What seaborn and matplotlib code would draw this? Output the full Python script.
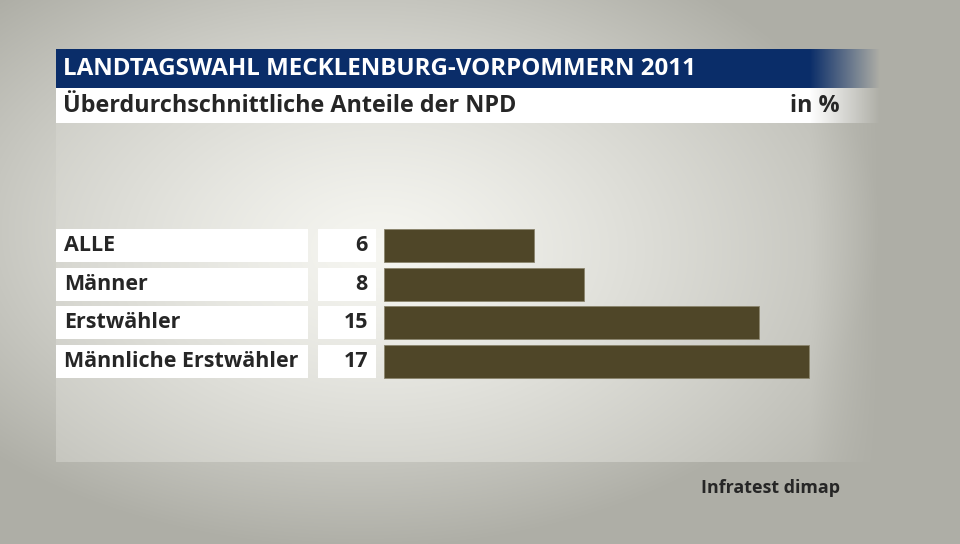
import numpy as np
import pandas as pd
import matplotlib
matplotlib.use("Agg")
import matplotlib.pyplot as plt
import matplotlib.transforms as mtransforms
from matplotlib.patches import Rectangle
import seaborn as sns

# data
categories = ["ALLE", "Männer", "Erstwähler", "Männliche Erstwähler"]
values = [6, 8, 15, 17]
value_labels = ["6", "8", "15", "17"]

title = "LANDTAGSWAHL MECKLENBURG-VORPOMMERN 2011"
subtitle = "Überdurchschnittliche Anteile der NPD"
unit = "in %"
source = "Infratest dimap"

BAR_COLOR = "#4f4628"
NAVY = np.array([10, 45, 105]) / 255
TEXT = "#262626"

sns.set_theme(style="white")
plt.rcParams["font.family"] = ["Open Sans", "DejaVu Sans"]

W, H = 960, 544
fig = plt.figure(figsize=(W / 100, H / 100), dpi=100)

# background: radial gray gradient plus a lighter panel
bg = fig.add_axes([0, 0, 1, 1], zorder=0)
bg.set_xlim(0, W)
bg.set_ylim(H, 0)
bg.axis("off")

yy, xx = np.mgrid[0:H, 0:W] + 0.5
light = np.array([246, 246, 241]) / 255
dark = np.array([174, 174, 166]) / 255
t = np.sqrt(((xx - 360) / 520) ** 2 + ((yy - 230) / 320) ** 2)
t = np.clip(t, 0, 1) ** 1.2
img = light * (1 - t[..., None]) + dark * t[..., None]

# panel: lighter region, fading out to the right
tp = np.sqrt(((xx - 380) / 640) ** 2 + ((yy - 250) / 420) ** 2)
tp = np.clip(tp, 0, 1) ** 1.2
panel = light * (1 - tp[..., None]) + dark * tp[..., None]
fade = np.clip((880 - xx) / 70, 0, 1)
inside = (xx >= 56) & (yy >= 123) & (yy <= 462)
a = (fade * inside)[..., None]
img = img * (1 - a) + panel * a
bg.imshow(img, extent=(0, W, H, 0), aspect="auto", zorder=0)

# header bars (navy title, white subtitle) fading at right
xs = np.arange(W) + 0.5
hfade = np.clip((880 - xs) / 70, 0, 1)
hfade[xs < 56] = 0
title_rgba = np.zeros((1, W, 4))
title_rgba[..., :3] = NAVY
title_rgba[..., 3] = hfade
bg.imshow(title_rgba, extent=(0, W, 88, 49), aspect="auto", zorder=1)
sub_rgba = np.ones((1, W, 4))
sub_rgba[..., 3] = hfade
bg.imshow(sub_rgba, extent=(0, W, 123, 88), aspect="auto", zorder=1)
bg.set_xlim(0, W)
bg.set_ylim(H, 0)

bg.text(63, 69, title, color="white", fontsize=17.4, fontweight="bold",
        va="center", ha="left", zorder=2)
bg.text(63, 106, subtitle, color=TEXT, fontsize=16.8, fontweight="bold",
        va="center", ha="left", zorder=2)
bg.text(840, 106, unit, color=TEXT, fontsize=16.8, fontweight="bold",
        va="center", ha="right", zorder=2)
bg.text(840, 488, source, color=TEXT, fontsize=12.9, fontweight="bold",
        va="center", ha="right", zorder=2)

# bar chart
df = pd.DataFrame({"category": categories, "value": values})
ax = fig.add_axes([384 / W, 0.3, 450 / W, 0.2838], zorder=2)
ax.patch.set_alpha(0)
sns.barplot(data=df, x="value", y="category", orient="h", color=BAR_COLOR,
            width=0.855, saturation=1, edgecolor="#8a846c", linewidth=0.6, ax=ax)
ax.set_xlim(0, 18)
ax.set_ylim(len(categories) - 0.5, -0.5)
ax.axis("off")

# label and value boxes, x in figure pixels, y in data rows
trans = mtransforms.blended_transform_factory(fig.transFigure, ax.transData)
h = 0.855
for i, (cat, lab) in enumerate(zip(categories, value_labels)):
    ax.add_patch(Rectangle((56 / W, i - h / 2), (308 - 56) / W, h, transform=trans,
                           facecolor="white", edgecolor="none", clip_on=False))
    ax.add_patch(Rectangle((318 / W, i - h / 2), (376 - 318) / W, h, transform=trans,
                           facecolor="white", edgecolor="none", clip_on=False))
    ax.text(64 / W, i, cat, transform=trans, color=TEXT, fontsize=15.5,
            fontweight="bold", va="center", ha="left")
    ax.text(368 / W, i, lab, transform=trans, color=TEXT, fontsize=15.5,
            fontweight="bold", va="center", ha="right")

fig.savefig("out.png", dpi=100)
